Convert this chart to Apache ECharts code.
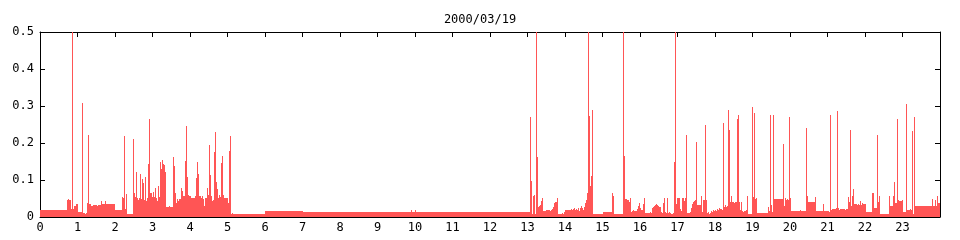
<!DOCTYPE html>
<html><head><meta charset="utf-8">
<script src="https://cdn.jsdelivr.net/npm/echarts@6/dist/echarts.min.js"></script>
<style>html,body{margin:0;padding:0;background:#fff}#c{width:960px;height:240px}</style>
</head><body><div id="c"></div>
<script>
const chartTitle = '2000/03/19';
const xTickLabels = ['0','1','2','3','4','5','6','7','8','9','10','11','12','13','14','15','16','17','18','19','20','21','22','23'];
const yTickValues = [0, 0.1, 0.2, 0.3, 0.4, 0.5];

// Morning: segment start hour and level held until the next start
const startHourAM = [
  0, 0.72, 0.747, 0.773, 0.827, 0.853, 0.88, 0.907, 0.96, 1.013,
  1.12, 1.147, 1.2, 1.227, 1.253, 1.28, 1.307, 1.36, 1.413, 1.52,
  1.547, 1.635, 1.66, 1.74, 1.767, 1.84, 1.867, 2.013, 2.187, 2.213,
  2.24, 2.267, 2.293, 2.32, 2.48, 2.507, 2.533, 2.56, 2.587, 2.613,
  2.64, 2.667, 2.693, 2.72, 2.747, 2.773, 2.8, 2.827, 2.853, 2.88,
  2.907, 2.933, 2.987, 3.013, 3.04, 3.067, 3.093, 3.12, 3.147, 3.173,
  3.2, 3.227, 3.253, 3.28, 3.307, 3.333, 3.36, 3.44, 3.467, 3.547,
  3.573, 3.6, 3.627, 3.653, 3.68, 3.707, 3.76, 3.787, 3.813, 3.84,
  3.867, 3.893, 3.92, 3.947, 3.973, 4.0, 4.027, 4.133, 4.16, 4.187,
  4.213, 4.24, 4.267, 4.293, 4.32, 4.347, 4.373, 4.4, 4.453, 4.48,
  4.507, 4.533, 4.56, 4.587, 4.613, 4.64, 4.667, 4.693, 4.72, 4.747,
  4.773, 4.8, 4.827, 4.853, 4.88, 4.907, 5.013, 5.04, 5.067, 5.093,
  5.12, 5.147, 6.0, 7.0, 9.9, 9.927, 10.0, 10.027
];
const levelAM = [
  0.018, 0.047, 0.049, 0.047, 0.022, 0.5, 0.022, 0.031, 0.036, 0.014,
  0.309, 0.011, 0.009, 0.011, 0.039, 0.222, 0.034, 0.031, 0.033, 0.031,
  0.033, 0.044, 0.034, 0.044, 0.036, 0.034, 0.036, 0.02, 0.055, 0.052,
  0.218, 0.022, 0.063, 0.009, 0.212, 0.065, 0.055, 0.122, 0.052, 0.047,
  0.052, 0.117, 0.05, 0.103, 0.093, 0.047, 0.108, 0.044, 0.052, 0.144,
  0.266, 0.065, 0.055, 0.068, 0.055, 0.079, 0.052, 0.044, 0.085, 0.055,
  0.15, 0.131, 0.153, 0.142, 0.14, 0.122, 0.028, 0.03, 0.028, 0.163,
  0.137, 0.065, 0.039, 0.049, 0.044, 0.049, 0.079, 0.069, 0.056, 0.058,
  0.152, 0.247, 0.108, 0.06, 0.058, 0.056, 0.052, 0.058, 0.105, 0.15,
  0.117, 0.056, 0.058, 0.052, 0.058, 0.049, 0.03, 0.052, 0.079, 0.06,
  0.195, 0.114, 0.058, 0.044, 0.047, 0.176, 0.23, 0.095, 0.077, 0.052,
  0.06, 0.055, 0.146, 0.166, 0.06, 0.052, 0.039, 0.179, 0.22, 0.009,
  0.01, 0.007, 0.017, 0.014, 0.018, 0.014, 0.018, 0.014
];

// Afternoon
const startHourPM = [
  13.067, 13.093, 13.12, 13.147, 13.173, 13.2, 13.227, 13.253, 13.28, 13.307,
  13.333, 13.36, 13.387, 13.413, 13.493, 13.6, 13.627, 13.653, 13.68, 13.707,
  13.733, 13.787, 13.813, 13.92, 13.947, 13.973, 14.0, 14.16, 14.187, 14.213,
  14.24, 14.267, 14.293, 14.32, 14.347, 14.373, 14.4, 14.427, 14.453, 14.48,
  14.507, 14.533, 14.56, 14.587, 14.613, 14.64, 14.667, 14.693, 14.72, 14.747,
  14.987, 15.013, 15.253, 15.28, 15.307, 15.547, 15.573, 15.6, 15.653, 15.707,
  15.733, 15.76, 15.787, 15.813, 15.84, 15.92, 15.947, 15.973, 16.0, 16.027,
  16.08, 16.107, 16.133, 16.267, 16.293, 16.32, 16.347, 16.373, 16.4, 16.427,
  16.453, 16.48, 16.507, 16.56, 16.587, 16.613, 16.64, 16.667, 16.693, 16.72,
  16.747, 16.773, 16.8, 16.827, 16.88, 16.907, 16.933, 16.96, 16.987, 17.067,
  17.093, 17.12, 17.173, 17.2, 17.227, 17.253, 17.333, 17.36, 17.387, 17.413,
  17.44, 17.467, 17.493, 17.52, 17.627, 17.653, 17.68, 17.733, 17.76, 17.787,
  17.813, 17.84, 17.867, 17.893, 17.92, 17.947, 17.973, 18.0, 18.027, 18.053,
  18.08, 18.107, 18.133, 18.16, 18.187, 18.213, 18.24, 18.267, 18.293, 18.32,
  18.347, 18.373, 18.4, 18.427, 18.453, 18.507, 18.533, 18.587, 18.613, 18.64,
  18.667, 18.693, 18.72, 18.747, 18.773, 18.827, 18.853, 18.88, 18.907, 18.933,
  18.96, 18.987, 19.013, 19.04, 19.067, 19.093, 19.12, 19.413, 19.44, 19.467,
  19.493, 19.52, 19.547, 19.573, 19.813, 19.84, 19.867, 19.893, 19.92, 19.947,
  19.973, 20.0, 20.027, 20.267, 20.293, 20.427, 20.453, 20.48, 20.667, 20.693,
  20.88, 20.907, 21.04, 21.067, 21.093, 21.12, 21.227, 21.253, 21.28, 21.307,
  21.333, 21.467, 21.493, 21.547, 21.573, 21.6, 21.627, 21.653, 21.68, 21.707,
  21.787, 21.813, 21.84, 21.867, 21.893, 21.92, 21.947, 22.027, 22.187, 22.24,
  22.32, 22.347, 22.373, 22.4, 22.64, 22.667, 22.747, 22.773, 22.8, 22.853,
  22.88, 22.907, 22.987, 23.013, 23.093, 23.12, 23.2, 23.227, 23.253, 23.28,
  23.307, 23.333, 23.787, 23.813, 23.867, 23.893, 23.92, 23.947
];
const levelPM = [
  0.269, 0.098, 0.007, 0.058, 0.06, 0.009, 0.5, 0.163, 0.028, 0.03,
  0.033, 0.044, 0.052, 0.017, 0.02, 0.017, 0.02, 0.022, 0.028, 0.039,
  0.041, 0.052, 0.009, 0.01, 0.009, 0.014, 0.02, 0.022, 0.02, 0.022,
  0.025, 0.02, 0.022, 0.02, 0.025, 0.017, 0.025, 0.03, 0.025, 0.02,
  0.028, 0.039, 0.047, 0.065, 0.5, 0.272, 0.085, 0.11, 0.288, 0.007,
  0.009, 0.014, 0.065, 0.058, 0.007, 0.5, 0.166, 0.049, 0.047, 0.041,
  0.052, 0.014, 0.017, 0.019, 0.017, 0.022, 0.03, 0.039, 0.025, 0.02,
  0.036, 0.052, 0.01, 0.014, 0.01, 0.025, 0.028, 0.03, 0.033, 0.036,
  0.033, 0.03, 0.028, 0.014, 0.01, 0.039, 0.052, 0.014, 0.01, 0.052,
  0.01, 0.014, 0.01, 0.009, 0.01, 0.15, 0.5, 0.036, 0.052, 0.022,
  0.017, 0.052, 0.044, 0.052, 0.222, 0.01, 0.014, 0.025, 0.036, 0.041,
  0.044, 0.047, 0.203, 0.033, 0.058, 0.014, 0.047, 0.25, 0.047, 0.01,
  0.014, 0.009, 0.01, 0.017, 0.014, 0.02, 0.017, 0.02, 0.017, 0.022,
  0.02, 0.025, 0.022, 0.022, 0.02, 0.253, 0.028, 0.033, 0.028, 0.03,
  0.288, 0.236, 0.041, 0.058, 0.041, 0.039, 0.041, 0.266, 0.275, 0.041,
  0.02, 0.041, 0.017, 0.014, 0.017, 0.02, 0.058, 0.009, 0.007, 0.009,
  0.007, 0.296, 0.054, 0.28, 0.049, 0.052, 0.01, 0.028, 0.017, 0.275,
  0.033, 0.014, 0.277, 0.049, 0.198, 0.03, 0.052, 0.047, 0.049, 0.047,
  0.269, 0.052, 0.017, 0.02, 0.017, 0.241, 0.058, 0.041, 0.055, 0.017,
  0.036, 0.017, 0.014, 0.277, 0.02, 0.022, 0.025, 0.287, 0.025, 0.02,
  0.022, 0.02, 0.022, 0.055, 0.041, 0.236, 0.03, 0.058, 0.077, 0.036,
  0.033, 0.036, 0.033, 0.044, 0.033, 0.039, 0.036, 0.014, 0.065, 0.025,
  0.222, 0.041, 0.058, 0.007, 0.058, 0.03, 0.058, 0.095, 0.039, 0.264,
  0.047, 0.044, 0.047, 0.014, 0.306, 0.02, 0.022, 0.02, 0.233, 0.009,
  0.27, 0.03, 0.049, 0.03, 0.047, 0.03, 0.058, 0.039
];
const endHour = 24;

const startHours = startHourAM.concat(startHourPM);
const levels = levelAM.concat(levelPM);
// one item per held level: [start hour, end hour (next start), level]
const seriesData = startHours.map((h, i) => [
  h, i + 1 < startHours.length ? startHours[i + 1] : endHour, levels[i]
]);

const RED = '#ff5555';
const FONT = 'DejaVu Sans Mono';

function renderSegment(params, api) {
  const p0 = api.coord([api.value(0), api.value(2)]);
  const p1 = api.coord([api.value(1), 0]);
  const x0 = Math.round(p0[0]), x1 = Math.round(p1[0]);
  const y0 = Math.round(p0[1]), y1 = Math.round(p1[1]) + 1;
  const rect = echarts.graphic.clipRectByRect(
    {x: x0, y: y0, width: x1 - x0, height: y1 - y0},
    {x: params.coordSys.x, y: params.coordSys.y, width: params.coordSys.width, height: params.coordSys.height + 1}
  );
  if (!rect) return null;
  return {type: 'rect', shape: rect, style: {fill: RED}};
}

const chart = echarts.init(document.getElementById('c'), null, {renderer: 'canvas'});
chart.setOption({
  animation: false,
  backgroundColor: '#ffffff',
  title: {
    text: chartTitle, left: 'center', top: 9,
    textStyle: {fontFamily: FONT, fontSize: 12, fontWeight: 'normal', color: '#000'}
  },
  grid: {left: 40, right: 20, top: 32, bottom: 23},
  xAxis: [{
    type: 'value', min: 0, max: 24, interval: 1, position: 'bottom',
    axisLine: {show: true, lineStyle: {color: '#000', width: 1}},
    axisTick: {show: false},
    splitLine: {show: false},
    axisLabel: {
      margin: 5, color: '#000', fontFamily: FONT, fontSize: 12,
      showMaxLabel: false,
      formatter: v => (v >= 0 && v < xTickLabels.length) ? xTickLabels[v] : ''
    }
  }, {
    type: 'value', min: 0, max: 24, interval: 1, position: 'top',
    axisLine: {show: true, onZero: false, lineStyle: {color: '#000', width: 1}},
    axisTick: {show: true, inside: true, length: 5, lineStyle: {color: '#000'}},
    splitLine: {show: false},
    axisLabel: {show: false}
  }],
  yAxis: [{
    type: 'value', min: 0, max: 0.5, interval: 0.1, position: 'left',
    axisLine: {show: true, lineStyle: {color: '#000', width: 1}},
    axisTick: {show: true, inside: true, length: 5, lineStyle: {color: '#000'}},
    splitLine: {show: false},
    axisLabel: {
      margin: 6, color: '#000', fontFamily: FONT, fontSize: 12,
      formatter: v => String(yTickValues[Math.round(v * 10)])
    }
  }, {
    type: 'value', min: 0, max: 0.5, interval: 0.1, position: 'right',
    axisLine: {show: true, onZero: false, lineStyle: {color: '#000', width: 1}},
    axisTick: {show: true, inside: true, length: 5, lineStyle: {color: '#000'}},
    splitLine: {show: false},
    axisLabel: {show: false}
  }],
  series: [{
    type: 'custom', xAxisIndex: 0, yAxisIndex: 0,
    renderItem: renderSegment,
    encode: {x: [0, 1], y: 2},
    data: seriesData,
    clip: true, z: 5
  }]
});
</script>
</body></html>
